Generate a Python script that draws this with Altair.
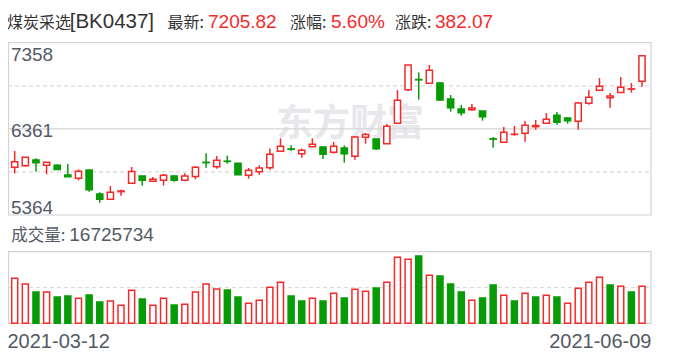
import altair as alt
import pandas as pd

# ---------------- data ----------------
dates = [
    "2021-03-12", "2021-03-15", "2021-03-16", "2021-03-17", "2021-03-18", "2021-03-19",
    "2021-03-22", "2021-03-23", "2021-03-24", "2021-03-25", "2021-03-26",
    "2021-03-29", "2021-03-30", "2021-03-31", "2021-04-01", "2021-04-02",
    "2021-04-06", "2021-04-07", "2021-04-08", "2021-04-09",
    "2021-04-12", "2021-04-13", "2021-04-14", "2021-04-15", "2021-04-16",
    "2021-04-19", "2021-04-20", "2021-04-21", "2021-04-22", "2021-04-23",
    "2021-04-26", "2021-04-27", "2021-04-28", "2021-04-29", "2021-04-30",
    "2021-05-06", "2021-05-07",
    "2021-05-10", "2021-05-11", "2021-05-12", "2021-05-13", "2021-05-14",
    "2021-05-17", "2021-05-18", "2021-05-19", "2021-05-20", "2021-05-21",
    "2021-05-24", "2021-05-25", "2021-05-26", "2021-05-27", "2021-05-28",
    "2021-05-31", "2021-06-01", "2021-06-02", "2021-06-03", "2021-06-04",
    "2021-06-07", "2021-06-08", "2021-06-09",
]
opens = [5916, 5935, 6000, 5939, 5939, 5827, 5788, 5885, 5607, 5545,
         5634, 5730, 5815, 5754, 5765, 5815, 5765, 5811, 5974, 5923,
         5987, 5962, 5823, 5865, 5912, 6101, 6129, 6074, 6155, 6151,
         6089, 6139, 6043, 6263, 6243, 6189, 6425, 6814, 6932, 6888,
         6891, 6706, 6591, 6583, 6567, 6245, 6205, 6296, 6309, 6386,
         6425, 6517, 6486, 6448, 6656, 6807, 6722, 6783, 6820, 6911]
highs = [6105, 6031, 6020, 5974, 5950, 5954, 5892, 5885, 5626, 5700,
         5657, 5920, 5815, 5804, 5838, 5823, 5846, 5931, 6078, 6047,
         6051, 5962, 5908, 5939, 6135, 6251, 6170, 6135, 6251, 6155,
         6209, 6170, 6278, 6313, 6243, 6417, 6810, 7100, 7015, 7100,
         6903, 6753, 6637, 6648, 6567, 6267, 6382, 6394, 6452, 6463,
         6544, 6556, 6498, 6672, 6810, 6949, 6776, 6961, 6891, 7217]
lows = [5846, 5923, 5866, 5835, 5892, 5808, 5765, 5634, 5507, 5545,
        5588, 5730, 5703, 5754, 5703, 5750, 5754, 5777, 5912, 5900,
        5958, 5831, 5784, 5831, 5889, 6101, 6105, 6027, 6155, 6012,
        6074, 5970, 6004, 6189, 6116, 6189, 6425, 6799, 6699, 6888,
        6683, 6560, 6513, 6571, 6456, 6143, 6205, 6282, 6213, 6351,
        6425, 6409, 6421, 6351, 6641, 6807, 6606, 6783, 6780, 6849]
closes = [5981, 6031, 5970, 5974, 5892, 5808, 5869, 5657, 5545, 5626,
          5642, 5866, 5765, 5777, 5823, 5765, 5815, 5916, 5970, 5997,
          5984, 5831, 5881, 5908, 6066, 6159, 6126, 6112, 6182, 6066,
          6159, 6074, 6267, 6297, 6132, 6390, 6691, 7100, 6928, 7038,
          6695, 6606, 6548, 6602, 6502, 6242, 6321, 6299, 6402, 6399,
          6471, 6436, 6456, 6660, 6726, 6853, 6741, 6841, 6823.75, 7205.82]
volumes = [20342070, 17780476, 14164108, 14164108, 11903878, 12355924, 11301150,
           12807970, 9643648, 10095694, 8136828, 14917518, 10999786, 8136828,
           11301150, 8287510, 8588874, 14164108, 17780476, 15520246, 15068200,
           11903878, 9040920, 10397058, 16273656, 18533886, 12355924, 10095694,
           11301150, 10095694, 13561380, 11451832, 15369564, 14465472, 15972292,
           18533886, 29835036, 28930944, 30437764, 21698208, 21396844, 17780476,
           14164108, 10397058, 11451832, 17328430, 12657288, 10095694, 13561380,
           11903878, 12657288, 11903878, 9040920, 15821610, 18533886, 20794116,
           17328430, 16725734, 14164108, 16725734]

name = "煤炭采选"
code = "[BK0437]"
latest = "7205.82"
pct = "5.60%"
change = "382.07"
price_ticks = [5364, 6361, 7358]
vol_max = 32396630

# ---------------- table ----------------
prev_close = [closes[0]] + closes[:-1]
df = pd.DataFrame({
    "date": dates, "open": opens, "high": highs, "low": lows,
    "close": closes, "volume": volumes,
})
df["dir"] = ["up" if c >= o else "down" for o, c in zip(opens, closes)]
df["vdir"] = ["up" if (i == 0 or c >= p) else "down"
              for i, (c, p) in enumerate(zip(closes, prev_close))]

RED = "#f42a2a"
GREEN = "#079b07"
GRID = "#dadada"
BORDER = "#d2d2d8"
LABEL = "#535a66"
DARK = "#333333"
LATIN = "Liberation Sans"
CJK = "Noto Sans CJK SC"

price_scale = alt.Scale(domain=[price_ticks[0], price_ticks[-1]], range=[207, 34.7],
                        nice=False, zero=False)
vol_scale = alt.Scale(domain=[0, vol_max], range=[315.3, 243.7], nice=False, zero=False)
x_enc = alt.X("date:N", sort=None, axis=None,
              scale=alt.Scale(type="point", range=[6.7, 634], padding=0))
fill_scale = alt.Scale(domain=["up", "down"], range=["#ffffff", GREEN])
stroke_scale = alt.Scale(domain=["up", "down"], range=[RED, GREEN])

one = pd.DataFrame({"k": [0]})


def txt(s, x, y, color, size, font, align="left", weight="normal", baseline="alphabetic"):
    return alt.Chart(one).mark_text(
        text=s, align=align, baseline=baseline, font=font, fontSize=size,
        color=color, fontWeight=weight,
    ).encode(x=alt.value(x), y=alt.value(y))


# watermark
watermark = txt("东方财富", 342, 117, "#e7e7ec", 37, CJK, align="center",
                weight="bold", baseline="middle")

# price grid
grid_dash = alt.Chart(pd.DataFrame({"level": [
    (price_ticks[0] + price_ticks[1]) / 2, (price_ticks[1] + price_ticks[2]) / 2]})
).mark_rule(stroke=GRID, strokeDash=[4, 3], strokeWidth=1.2).encode(
    y=alt.Y("level:Q", scale=price_scale, axis=None),
    x=alt.value(0), x2=alt.value(643))
grid_solid = alt.Chart(pd.DataFrame({"level": [price_ticks[1]]})).mark_rule(
    stroke="#d6d6d6", strokeWidth=1.2).encode(
    y=alt.Y("level:Q", scale=price_scale, axis=None),
    x=alt.value(0), x2=alt.value(643))
vol_grid = alt.Chart(pd.DataFrame({"level": [vol_max / 2]})).mark_rule(
    stroke=GRID, strokeDash=[4, 3], strokeWidth=1.2).encode(
    y=alt.Y("level:Q", scale=vol_scale, axis=None),
    x=alt.value(0), x2=alt.value(643))

price_box = alt.Chart(one).mark_rect(filled=False, stroke=BORDER, strokeWidth=1.2).encode(
    x=alt.value(0.5), x2=alt.value(643), y=alt.value(34.7), y2=alt.value(207))
vol_box = alt.Chart(one).mark_rect(filled=False, stroke=BORDER, strokeWidth=1.2).encode(
    x=alt.value(0.5), x2=alt.value(643), y=alt.value(243.7), y2=alt.value(315.3))

base = alt.Chart(df)
wicks = base.mark_rule(strokeWidth=1.5).encode(
    x=x_enc,
    y=alt.Y("low:Q", scale=price_scale, axis=None),
    y2="high:Q",
    stroke=alt.Stroke("dir:N", scale=stroke_scale, legend=None),
)
bodies = base.mark_bar(size=6.2, strokeWidth=1.5).encode(
    x=x_enc,
    y=alt.Y("open:Q", scale=price_scale, axis=None),
    y2="close:Q",
    fill=alt.Fill("dir:N", scale=fill_scale, legend=None),
    stroke=alt.Stroke("dir:N", scale=stroke_scale, legend=None),
)
vol_bars = base.mark_bar(size=6, strokeWidth=1.5).encode(
    x=x_enc,
    y=alt.Y("volume:Q", scale=vol_scale, axis=None),
    fill=alt.Fill("vdir:N", scale=fill_scale, legend=None),
    stroke=alt.Stroke("vdir:N", scale=stroke_scale, legend=None),
)

texts = [
    txt(name, -1, 20.3, DARK, 16, CJK),
    txt(code, 61.7, 20.3, DARK, 20.5, LATIN),
    txt("最新:", 159.5, 20.3, DARK, 16, CJK),
    txt(latest, 200, 20.3, RED, 19, LATIN),
    txt("涨幅:", 282, 20.3, DARK, 16, CJK),
    txt(pct, 323, 20.3, RED, 19, LATIN),
    txt("涨跌:", 387, 20.3, DARK, 16, CJK),
    txt(change, 427, 20.3, RED, 19, LATIN),
    txt(str(price_ticks[2]), 2.9, 52.7, LABEL, 19, LATIN),
    txt(str(price_ticks[1]), 2.9, 128.7, LABEL, 19, LATIN),
    txt(str(price_ticks[0]), 2.9, 206, LABEL, 19, LATIN),
    txt("成交量:", 3.2, 232.5, LABEL, 16.5, CJK),
    txt(str(volumes[-1]), 61.3, 232.5, LABEL, 19, LATIN),
    txt(dates[0], -0.5, 340.3, LABEL, 20, LATIN),
    txt(dates[-1], 643.5, 340.3, LABEL, 20, LATIN, align="right"),
]

chart = alt.layer(
    watermark, grid_dash, grid_solid, vol_grid, price_box, vol_box,
    wicks, bodies, vol_bars, *texts,
).resolve_scale(y="independent").properties(
    width=672, height=344, padding=0,
    autosize=alt.AutoSizeParams(type="none"),
).configure_view(strokeWidth=0)

chart.save("out.html", embed_options={"renderer": "svg", "actions": False})
